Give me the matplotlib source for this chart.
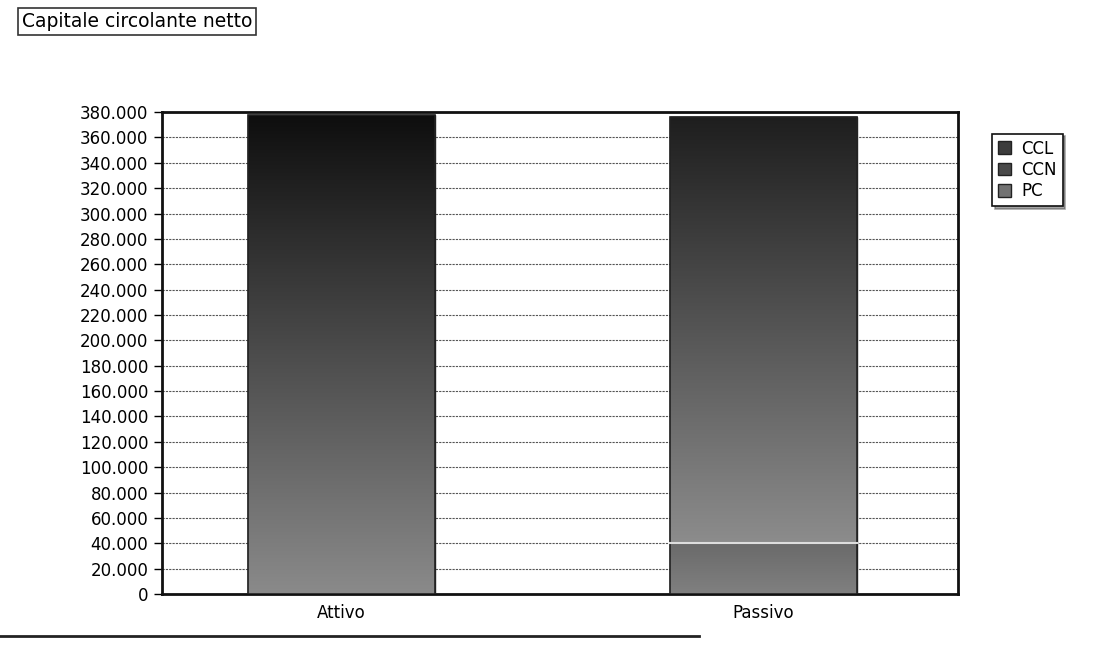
import matplotlib
matplotlib.use("Agg")
import matplotlib.pyplot as plt
import numpy as np
from matplotlib.ticker import FuncFormatter, MultipleLocator
from matplotlib.patches import Rectangle

categories = ["Attivo", "Passivo"]
series_names = ["CCL", "CCN", "PC"]
pc_values = [0, 40000]
ccn_values = [0, 336000]
ccl_values = [378000, 0]
y_max = 380000
y_step = 20000

fig = plt.figure(figsize=(11.09, 6.54), dpi=100)
ax = fig.add_axes([0.1461, 0.0917, 0.7177, 0.737])

x = np.arange(len(categories))
w = 0.443
base_colors = {"PC": "#727272", "CCN": "#4a4a4a", "CCL": "#3c3c3c"}
grads = {"PC": ("#808080", "#6a6a6a"), "CCN": ("#8c8c8c", "#1e1e1e"), "CCL": ("#8a8a8a", "#0e0e0e")}

bottom = np.zeros(len(categories))
handles = {}
for name, vals in [("PC", pc_values), ("CCN", ccn_values), ("CCL", ccl_values)]:
    vals = np.array(vals, dtype=float)
    bars = ax.bar(x, vals, w, bottom=bottom, color=base_colors[name],
                  edgecolor="#222222", linewidth=1.0, zorder=3, label=name)
    handles[name] = bars
    c0, c1 = grads[name]
    cmap = matplotlib.colors.LinearSegmentedColormap.from_list(name, [c0, c1])
    for b in bars:
        if b.get_height() <= 0:
            continue
        grad = np.linspace(0, 1, 256).reshape(-1, 1)
        im = ax.imshow(grad, cmap=cmap, aspect="auto", origin="lower",
                       extent=[b.get_x(), b.get_x() + b.get_width(),
                               b.get_y(), b.get_y() + b.get_height()],
                       zorder=3.5)
        im.set_clip_path(b)
        ax.add_patch(Rectangle((b.get_x(), b.get_y()), b.get_width(), b.get_height(),
                               fill=False, edgecolor="#222222", linewidth=1.2, zorder=4))
        if b.get_y() > 0:
            ax.plot([b.get_x(), b.get_x() + b.get_width()], [b.get_y(), b.get_y()],
                    color="#dddddd", linewidth=1.5, zorder=4.5)
    bottom += vals

ax.set_xlim(-0.425, 1.461)
ax.set_ylim(0, y_max)
ax.yaxis.set_major_locator(MultipleLocator(y_step))
ax.yaxis.set_major_formatter(FuncFormatter(lambda v, p: f"{int(v):,}".replace(",", ".")))
ax.set_xticks(x)
ax.set_xticklabels(categories, fontsize=12)
ax.tick_params(axis="y", labelsize=12, length=6, width=1, pad=4)
ax.tick_params(axis="x", length=0, pad=7)
ax.grid(axis="y", color="#555555", linestyle=(0, (2, 1)), linewidth=0.8, zorder=0)
ax.set_axisbelow(True)
for s in ax.spines.values():
    s.set_linewidth(2)
    s.set_color("#111111")

leg = ax.legend([handles[n] for n in series_names], series_names,
                loc="upper left", bbox_to_anchor=(1.043, 0.955), frameon=True,
                fancybox=False, shadow=True, fontsize=12, handlelength=0.8,
                handleheight=0.8, borderpad=0.35, labelspacing=0.2, handletextpad=0.6,
                borderaxespad=0)
leg.get_frame().set_edgecolor("#111111")
leg.get_frame().set_linewidth(1.2)

fig.text(0.020, 0.967, "Capitale circolante netto", fontsize=13.5, va="center", ha="left",
         bbox=dict(boxstyle="square,pad=0.2", facecolor="white", edgecolor="#333333", linewidth=1.2))

fig.add_artist(plt.Line2D([0.0, 0.63], [0.028, 0.028], color="#222222", linewidth=2,
                          transform=fig.transFigure))

fig.savefig("out.png", dpi=100)
